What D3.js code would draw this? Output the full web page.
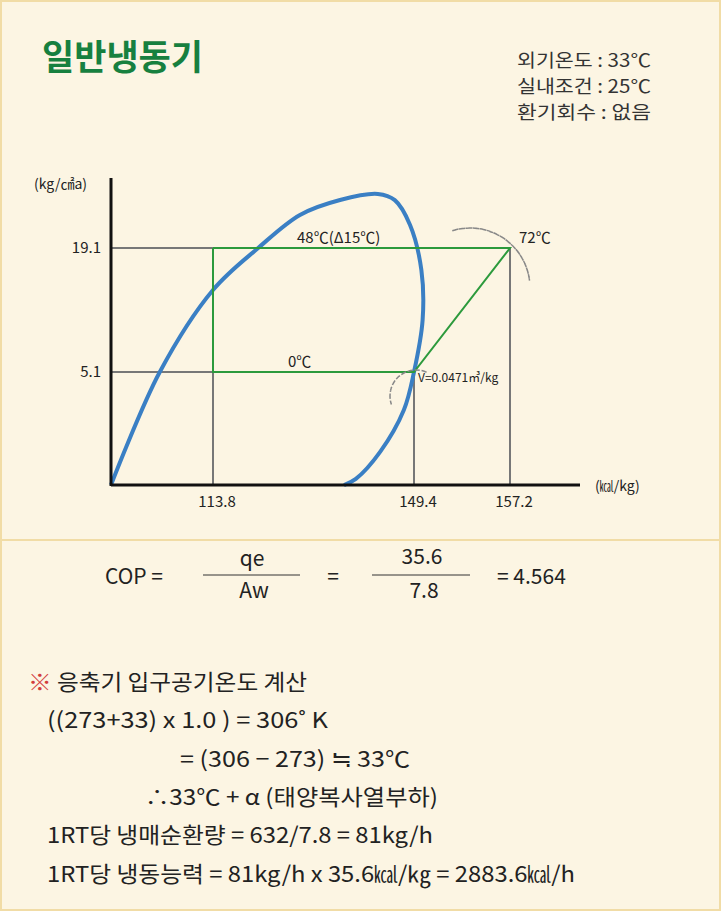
<!DOCTYPE html>
<html><head><meta charset="utf-8">
<script src="https://cdn.jsdelivr.net/npm/d3@7"></script>
<style>body{margin:0;background:#fff}</style></head>
<body><svg id="c" width="721" height="912"></svg>
<script>
const xTicks=[113.8,149.4,157.2];
const yTicks=[5.1,19.1];
const cycle=[[113.8,19.1],[157.2,19.1],[149.4,5.1],[113.8,5.1],[113.8,19.1]];
const domeH=[100,106.6,113.8,121.8,129.2,136.3,143.0,146.0,148.7,150.0,150.1,149.4,147.6,143.4,139.1,137.0];
const domeP=[-7.66,5.1,14.36,19.1,22.83,24.52,25.2,24.5,21.7,16.6,10.97,5.1,0.81,-3.92,-6.97,-7.66];
const info=["외기온도 : 33℃","실내조건 : 25℃","환기회수 : 없음"];
const calc=[["※ 응축기 입구공기온도 계산",28,690,279],["((273+33) x 1.0 ) = 306˚ K",47,728,281],["= (306 − 273) ≒ 33℃",180,767,230],["∴33℃ + α  (태양복사열부하)",145,805,293],["1RT당 냉매순환량 = 632/7.8 = 81kg/h",47,843,386],["1RT당 냉동능력 = 81kg/h x 35.6㎉/㎏ = 2883.6㎉/h",47,882,528]];
const svg=d3.select("#c");
const F="'Noto Sans CJK KR','Noto Sans',sans-serif";
svg.append("rect").attr("x",1).attr("y",1).attr("width",719).attr("height",909).attr("fill","#fcf5e3").attr("stroke","#f1dca6").attr("stroke-width",2);
svg.append("line").attr("x1",1).attr("x2",720).attr("y1",540).attr("y2",540).attr("stroke","#f1dca6").attr("stroke-width",2);
svg.append("text").attr("x",42).attr("y",70).attr("font-family",F).attr("font-weight","bold").attr("font-size",35).attr("fill","#17803f").text("일반냉동기");
svg.selectAll(".inf").data(info).join("text").attr("x",517).attr("y",(d,i)=>67+i*26).attr("font-family",F).attr("font-size",18).attr("fill","#333").attr("textLength",134).attr("lengthAdjust","spacingAndGlyphs").text(d=>d);
const x=d3.scaleLinear().domain([100,113.8,149.4,157.2,163]).range([111,213,414,510,580]);
const y=d3.scaleLinear().domain([5.1,19.1]).range([372,248]);
const x0=111,y0=485;
const g=svg.append("g");
g.selectAll(".vt").data(xTicks).join("line").attr("x1",d=>x(d)).attr("x2",d=>x(d)).attr("y1",d=>d==157.2?y(19.1):y(5.1)).attr("y2",y0).attr("stroke","#777").attr("stroke-width",2);
g.selectAll(".ht").data(yTicks).join("line").attr("x1",x0).attr("x2",d=>x(113.8)).attr("y1",d=>y(d)).attr("y2",d=>y(d)).attr("stroke","#777").attr("stroke-width",2);
const dome=domeH.map((h,i)=>[h,domeP[i]]);
g.append("path").attr("d",d3.line().x(d=>x(d[0])).y(d=>y(d[1])).curve(d3.curveCatmullRom)(dome)).attr("fill","none").attr("stroke","#3a7fc4").attr("stroke-width",4);
g.append("path").attr("d",d3.line().x(d=>x(d[0])).y(d=>y(d[1]))(cycle)).attr("fill","none").attr("stroke","#2c9a3c").attr("stroke-width",2);
const arc=d3.arc();
g.append("path").attr("transform",`translate(${x(157.2)-40},${y(19.1)+40})`).attr("d",arc({innerRadius:60,outerRadius:60,startAngle:-0.3,endAngle:1.45})).attr("fill","none").attr("stroke","#888").attr("stroke-width",1.5).attr("stroke-dasharray","4,3");
g.append("path").attr("transform",`translate(${x(149.4)+2},${y(5.1)+24})`).attr("d",arc({innerRadius:26,outerRadius:26,startAngle:-1.9,endAngle:0.45})).attr("fill","none").attr("stroke","#888").attr("stroke-width",1.5).attr("stroke-dasharray","4,3");
g.append("line").attr("x1",x0).attr("x2",x0).attr("y1",178).attr("y2",y0+1).attr("stroke","#111").attr("stroke-width",3);
g.append("line").attr("x1",x0).attr("x2",580).attr("y1",y0).attr("y2",y0).attr("stroke","#111").attr("stroke-width",3);
const T=(t,xx,yy,s,a)=>svg.append("text").attr("x",xx).attr("y",yy).attr("font-family",F).attr("font-size",s).attr("fill","#222").attr("text-anchor",a||"start").text(t);
g.selectAll(".yl").data(yTicks).join("text").attr("x",x0-10).attr("y",d=>y(d)+5).attr("text-anchor","end").attr("font-family",F).attr("font-size",15).attr("fill","#222").text(d=>d);
g.selectAll(".xl").data(xTicks).join("text").attr("x",d=>x(d)+4).attr("y",y0+22).attr("text-anchor","middle").attr("font-family",F).attr("font-size",15).attr("fill","#222").text(d=>d);
T("(kg/㎠a)",34,189,14);
T("(㎉/kg)",595,491,14);
T("48℃(Δ15℃)",297,243,15);
T("72℃",519,243,15);
T("0℃",288,367,15);
T("V=0.0471㎥/kg",418,382,12);
T("COP =",105,584,21);
T("qe",252,566,21,"middle");T("Aw",254,598,21,"middle");
svg.append("line").attr("x1",203).attr("x2",300).attr("y1",575).attr("y2",575).attr("stroke","#333");
T("=",333,584,21,"middle");
T("35.6",422,564,21,"middle");T("7.8",424,598,21,"middle");
svg.append("line").attr("x1",372).attr("x2",470).attr("y1",575).attr("y2",575).attr("stroke","#333");
T("=  4.564",497,584,21);
svg.selectAll(".cl").data(calc).join("text").attr("x",d=>d[1]).attr("y",d=>d[2]).attr("font-family",F).attr("font-size",22).attr("fill","#222").attr("textLength",d=>d[3]).attr("lengthAdjust","spacingAndGlyphs").each(function(d,i){
 const s=d3.select(this);
 if(i==0){s.append("tspan").attr("fill","#d23c3c").text("※");s.append("tspan").text(d[0].slice(1));} else s.text(d[0]);
});
</script></body></html>
